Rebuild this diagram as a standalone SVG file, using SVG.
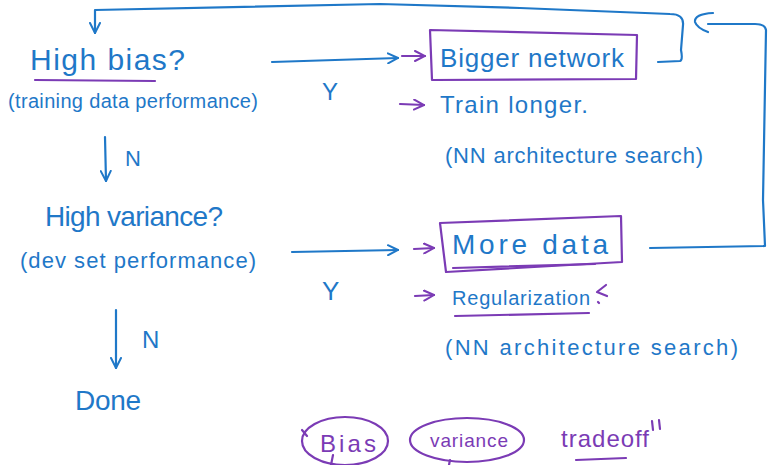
<svg xmlns="http://www.w3.org/2000/svg" width="784" height="465" viewBox="0 0 784 465">
<defs>
<style>
.b{fill:#1f78c8;font-family:"Liberation Sans","DejaVu Sans",sans-serif}
.p{fill:#7b3bb5;font-family:"Liberation Sans","DejaVu Sans",sans-serif}
.lb{fill:none;stroke:#1f78c8;stroke-width:2.2;stroke-linecap:round;stroke-linejoin:round}
.lp{fill:none;stroke:#7b3bb5;stroke-width:2.2;stroke-linecap:round;stroke-linejoin:round}
</style>
<marker id="ab" viewBox="0 0 12 12" refX="11" refY="6" markerWidth="12" markerHeight="12" markerUnits="userSpaceOnUse" orient="auto">
<path d="M1,1 L11,6 L1,11" fill="none" stroke="#1f78c8" stroke-width="2" stroke-linecap="round"/>
</marker>
<marker id="ap" viewBox="0 0 12 12" refX="11" refY="6" markerWidth="12" markerHeight="12" markerUnits="userSpaceOnUse" orient="auto">
<path d="M1,1 L11,6 L1,11" fill="none" stroke="#7b3bb5" stroke-width="2" stroke-linecap="round"/>
</marker>
</defs>
<rect width="784" height="465" fill="#ffffff"/>

<g id="high-bias">
<text class="b" x="30" y="70" font-size="30" textLength="155" lengthAdjust="spacing">High bias?</text>
<path class="lp" d="M35,80 L155,81"/>
<text class="b" x="8" y="108" font-size="20" textLength="250" lengthAdjust="spacing">(training data performance)</text>
</g>

<g id="high-variance">
<text class="b" x="45" y="226" font-size="28" textLength="178" lengthAdjust="spacing">High variance?</text>
<text class="b" x="20" y="268" font-size="22" textLength="236" lengthAdjust="spacing">(dev set performance)</text>
</g>

<g id="done">
<text class="b" x="75" y="410" font-size="28" textLength="66" lengthAdjust="spacing">Done</text>
</g>

<g id="bigger-network">
<path class="lp" d="M430,30 L637,35 L636,79 L432,80 Z"/>
<text class="b" x="440" y="67" font-size="26" textLength="184" lengthAdjust="spacing">Bigger network</text>
</g>

<g id="train-longer">
<text class="b" x="440" y="113" font-size="24" textLength="148" lengthAdjust="spacing">Train longer.</text>
<text class="b" x="445" y="163" font-size="22" textLength="258" lengthAdjust="spacing">(NN architecture search)</text>
</g>

<g id="more-data">
<path class="lp" d="M440,223 L621,216 L622,262 L446,272 Z"/>
<text class="b" x="452" y="254" font-size="28" textLength="156" lengthAdjust="spacing">More data</text>
<path class="lp" d="M453,268 L595,264"/>
</g>

<g id="regularization">
<text class="b" x="452" y="305" font-size="20" textLength="138" lengthAdjust="spacing">Regularization</text>
<path class="lp" d="M455,316 L589,313"/>
<path class="lp" d="M606,285 L597,292 L607,296 M598,302 L599,303"/>
<text class="b" x="445" y="355" font-size="22" textLength="293" lengthAdjust="spacing">(NN architecture search)</text>
</g>

<g id="bias-variance-tradeoff">
<ellipse class="lp" cx="345" cy="441" rx="43" ry="24"/>
<path class="lp" d="M302,430 L307,436 M333,455 L331,465"/>
<text class="p" x="320" y="452" font-size="24" textLength="56" lengthAdjust="spacing">Bias</text>
<ellipse class="lp" cx="467" cy="440" rx="57" ry="22"/>
<path class="lp" d="M450,460 L449,465"/>
<text class="p" x="430" y="447" font-size="19" textLength="78" lengthAdjust="spacing">variance</text>
<text class="p" x="561" y="447" font-size="24" textLength="88" lengthAdjust="spacing">tradeoff</text>
<path class="lp" d="M576,460 L626,458 M652,421 L653,430 M659,420 L660,429"/>
</g>

<g id="connectors">
<path class="lb" d="M105,137 L106,181" marker-end="url(#ab)"/>
<text class="b" x="125" y="166" font-size="22">N</text>
<path class="lb" d="M116,310 L116,368" marker-end="url(#ab)"/>
<text class="b" x="142" y="348" font-size="24">N</text>

<path class="lb" d="M272,62 L398,58" marker-end="url(#ab)"/>
<text class="b" x="322" y="100" font-size="24">Y</text>
<path class="lp" d="M402,56 L425,56" marker-end="url(#ap)"/>

<path class="lb" d="M292,252 L398,250" marker-end="url(#ab)"/>
<text class="b" x="322" y="300" font-size="26">Y</text>
<path class="lp" d="M414,249 L434,248" marker-end="url(#ap)"/>

<path class="lp" d="M400,104 L424,105" marker-end="url(#ap)"/>
<path class="lp" d="M415,296 L434,295" marker-end="url(#ap)"/>

<path class="lb" d="M658,62 L680,61 Q683,60 681,50 L683,25 Q684,14 670,14 L520,8 L380,4 L95,10 L95,33" marker-end="url(#ab)"/>
<path class="lb" d="M650,248 L765,246 L763,200 L766,30 Q765,24 755,24 L708,24"/>
<path class="lb" d="M713,13 Q694,14 695,22 Q697,28 708,32"/>
</g>
</svg>
